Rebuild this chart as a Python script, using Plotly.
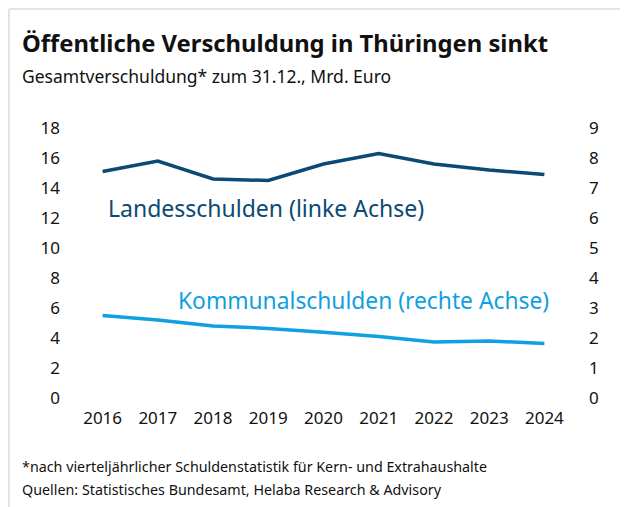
import plotly.graph_objects as go

# data
years = ["2016", "2017", "2018", "2019", "2020", "2021", "2022", "2023", "2024"]
landesschulden = [15.1, 15.8, 14.6, 14.5, 15.6, 16.3, 15.6, 15.2, 14.9]
kommunalschulden = [2.75, 2.6, 2.4, 2.32, 2.19, 2.05, 1.87, 1.9, 1.82]
left_ticks = [0, 2, 4, 6, 8, 10, 12, 14, 16, 18]
right_ticks = [0, 1, 2, 3, 4, 5, 6, 7, 8, 9]

dark = "#0b4a74"
light = "#0ea0e0"
font = "Noto Sans"
# the page body adds an 8px margin, so the figure is 8px smaller than the window
W, H = 620, 499
L, R, T, B = 67, 56, 120, 109
pw, ph = W - L - R, H - T - B

fig = go.Figure()
fig.add_trace(go.Scatter(x=years, y=landesschulden, mode="lines",
                         line=dict(color=dark, width=3.5), yaxis="y"))
fig.add_trace(go.Scatter(x=years, y=kommunalschulden, mode="lines",
                         line=dict(color=light, width=3.5), yaxis="y2"))

fig.update_layout(
    width=W, height=H,
    margin=dict(l=L, r=R, t=T, b=B),
    paper_bgcolor="white", plot_bgcolor="white",
    showlegend=False,
    font=dict(family=font, color="#111111", size=17),
    xaxis=dict(type="category", range=[-0.5, 8.5], showgrid=False, zeroline=False,
               showline=False, ticks="", ticklabelstandoff=8),
    yaxis=dict(range=[0, 18], tickvals=left_ticks, showgrid=False, zeroline=False,
               showline=False, ticks="", ticklabelstandoff=14),
    yaxis2=dict(range=[0, 9], tickvals=right_ticks, overlaying="y", side="right",
                showgrid=False, zeroline=False, showline=False, ticks="",
                ticklabelstandoff=16),
)

# page pixel -> plot-area fraction
def fx(p):
    return (p - 8 - L) / pw

def fy(p):
    return (H - B - (p - 8)) / ph

ann = [
    ("<b>Öffentliche Verschuldung in Thüringen sinkt</b>", 20, 43, 23.8, "#111111"),
    ("Gesamtverschuldung* zum 31.12., Mrd. Euro", 20, 76, 17.5, "#111111"),
    ("*nach vierteljährlicher Schuldenstatistik für Kern- und Extrahaushalte", 20, 466, 14.3, "#111111"),
    ("Quellen: Statistisches Bundesamt, Helaba Research &amp; Advisory", 20, 489, 14.3, "#111111"),
    ("Landesschulden (linke Achse)", 106, 208, 23, dark),
    ("Kommunalschulden (rechte Achse)", 176, 300, 22.8, light),
]
for text, x, y, size, color in ann:
    fig.add_annotation(text=text, xref="paper", yref="paper", x=fx(x), y=fy(y),
                       xanchor="left", yanchor="middle", showarrow=False,
                       font=dict(size=size, color=color, family=font))

# light grey frame (top and left edges)
fig.add_shape(type="line", xref="paper", yref="paper", x0=fx(9), x1=fx(700),
              y0=fy(9), y1=fy(9), line=dict(color="#e4e4e4", width=2))
fig.add_shape(type="line", xref="paper", yref="paper", x0=fx(9), x1=fx(9),
              y0=fy(9), y1=fy(600), line=dict(color="#e4e4e4", width=2))

fig.write_html("out.html")
